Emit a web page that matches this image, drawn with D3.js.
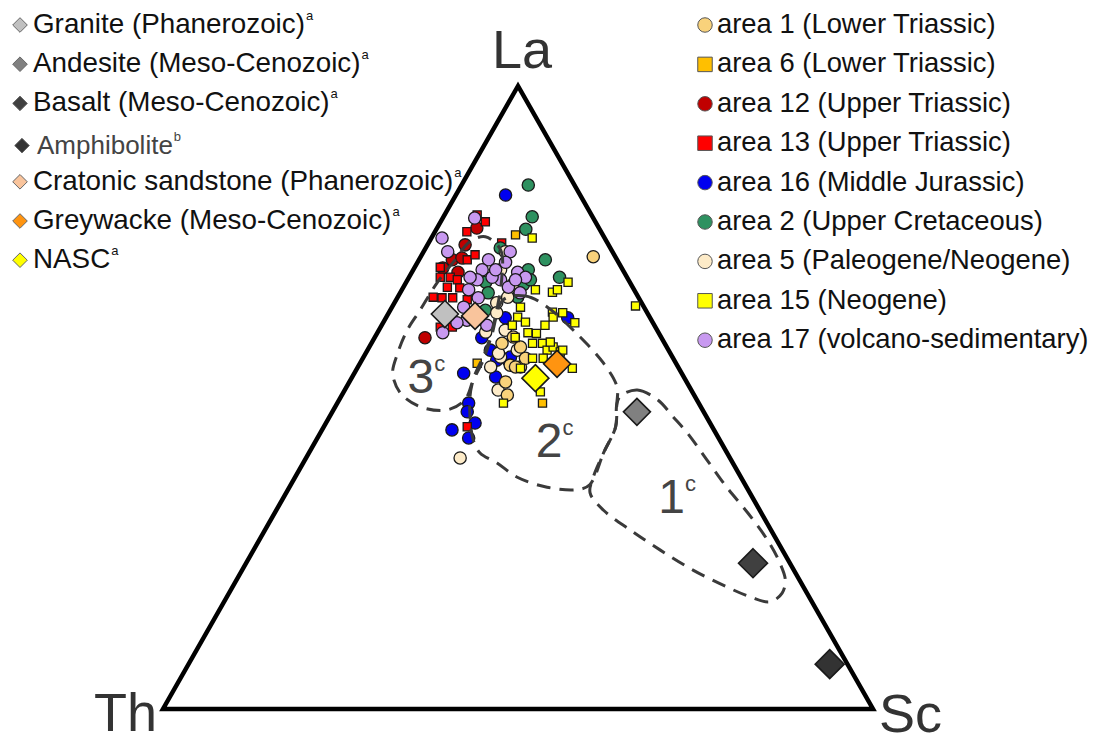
<!DOCTYPE html>
<html>
<head>
<meta charset="utf-8">
<script src="https://cdn.jsdelivr.net/npm/d3@7"></script>
<style>
  body { margin: 0; background: #fff; }
  svg { display: block; font-family: "Liberation Sans", Arial, sans-serif; }
</style>
</head>
<body>
<div id="chart"></div>
<script>
const width = 1094;
const height = 736;

// compositions as [La, Th, Sc] (%)
const area1 = [
  [72.6, 3.1, 24.3], [58.7, 22.9, 18.4], [52.5, 25.5, 22.0], [55.2, 23.5, 21.3],
  [54.9, 22.2, 22.9], [56.3, 20.8, 22.9], [59.7, 20.8, 19.5], [58.1, 20.6, 21.3],
  [54.9, 22.9, 22.2], [50.4, 26.3, 23.3],
];
const area6 = [[76.1, 12.3, 11.6], [55.5, 28.0, 16.5], [49.1, 22.0, 28.9]];
const area12 = [
  [74.5, 20.2, 5.3], [72.1, 23.2, 4.7], [70.8, 25.2, 4.0], [59.6, 33.3, 7.1],
  [77.2, 17.2, 5.6], [72.4, 21.7, 5.9], [70.1, 23.4, 6.5],
];
const area13 = [
  [78.2, 15.5, 6.3], [76.6, 18.9, 4.5], [79.3, 16.1, 4.6], [70.9, 25.5, 3.6],
  [72.1, 21.1, 6.8], [72.9, 19.6, 7.5], [69.3, 26.3, 4.4], [67.7, 26.1, 6.2],
  [69.3, 24.9, 5.8], [68.9, 24.1, 7.0], [67.6, 24.4, 8.0], [66.1, 28.9, 5.0],
  [66.0, 27.7, 6.3], [66.0, 26.2, 7.8], [65.7, 24.3, 10.0], [61.3, 30.3, 8.4],
  [61.3, 28.6, 10.1], [45.3, 34.5, 20.2], [74.8, 14.9, 10.3],
];
const area16 = [
  [82.5, 10.5, 7.0], [62.8, 11.6, 25.6], [59.6, 25.3, 15.1], [57.6, 25.1, 17.3],
  [56.0, 23.4, 20.6], [62.8, 20.4, 16.8], [53.9, 30.7, 15.4], [53.3, 26.5, 20.2],
  [49.1, 32.4, 18.5], [47.7, 33.3, 19.0], [45.9, 33.1, 21.0], [44.8, 36.9, 18.3],
  [43.5, 35.2, 21.3], [56.0, 25.0, 19.0], [56.5, 22.8, 20.7],
];
const area2 = [
  [84.1, 6.5, 9.4], [79.0, 8.5, 12.5], [77.0, 10.4, 12.6], [72.1, 10.1, 17.8],
  [69.3, 9.5, 21.2], [70.5, 13.3, 16.2], [74.0, 15.5, 10.5], [68.5, 20.3, 11.2],
  [66.8, 20.8, 12.4], [64.0, 22.6, 13.4], [66.1, 17.0, 16.9], [68.1, 15.2, 16.7],
  [68.9, 13.8, 17.3],
];
const area5 = [
  [54.9, 26.4, 18.7], [56.5, 24.2, 19.3], [51.2, 27.2, 21.6], [40.3, 38.0, 21.7],
  [70.5, 17.2, 12.3], [73.4, 15.1, 11.5], [65.2, 20.4, 14.4], [66.1, 18.4, 15.5],
  [63.6, 21.2, 15.2], [60.8, 21.4, 17.8], [57.6, 21.3, 21.1], [60.5, 24.3, 15.2],
  [57.1, 24.2, 18.7], [68.1, 16.7, 15.2],
];
const area15 = [
  [75.6, 10.2, 14.2], [66.9, 11.7, 21.4], [67.3, 10.8, 21.9], [68.5, 8.7, 22.8],
  [67.3, 13.9, 18.8], [62.9, 18.6, 18.5], [62.1, 17.9, 20.0], [63.7, 13.3, 23.0],
  [62.9, 13.6, 23.5], [63.6, 11.9, 24.5], [62.0, 11.0, 27.0], [60.4, 18.4, 21.2],
  [60.4, 17.3, 22.5], [61.6, 15.4, 23.0], [58.7, 18.6, 22.7], [58.7, 17.2, 24.1],
  [57.6, 17.1, 25.3], [58.1, 16.0, 25.9], [57.3, 15.4, 27.3], [56.3, 18.3, 25.4],
  [54.7, 22.3, 23.0], [54.7, 15.0, 30.3], [50.9, 21.4, 27.7], [49.1, 27.5, 23.4],
  [64.7, 1.1, 34.2], [61.6, 20.0, 18.4], [59.7, 20.6, 19.8], [64.5, 17.4, 18.1],
  [56.3, 19.8, 23.9], [58.9, 16.0, 25.1], [57.6, 14.9, 27.5],
];
const area17 = [
  [78.8, 16.7, 4.5], [75.6, 22.9, 1.5], [73.4, 23.2, 3.4], [73.4, 14.4, 12.2],
  [72.1, 18.1, 9.8], [70.1, 15.0, 14.9], [69.3, 14.3, 16.4], [68.9, 18.0, 13.1],
  [70.5, 19.8, 9.7], [68.9, 21.3, 9.8], [69.3, 22.1, 8.6], [69.3, 19.0, 11.7],
  [67.7, 17.5, 14.8], [68.9, 15.9, 15.2], [64.5, 25.4, 10.1], [62.4, 26.0, 11.6],
  [62.0, 27.6, 10.4], [60.4, 30.4, 9.2], [61.6, 23.6, 14.8], [66.8, 16.3, 16.9],
  [66.0, 22.6, 11.4], [70.5, 17.9, 11.6], [67.3, 23.3, 9.4], [71.7, 15.9, 12.4],
];

// reference compositions
const refNames = ['Granite (Phanerozoic)', 'Andesite (Meso-Cenozoic)', 'Basalt (Meso-Cenozoic)',
  'Amphibolite', 'Cratonic sandstone (Phanerozoic)', 'Greywacke (Meso-Cenozoic)', 'NASC'];
const refNotes = ['a', 'a', 'a', 'b', 'a', 'a', 'a'];
const refValues = [
  [63.4, 28.6, 8.0], [47.7, 9.4, 42.9], [23.4, 5.2, 71.4], [7.2, 2.5, 90.3],
  [63.1, 24.5, 12.4], [55.4, 16.8, 27.8], [53.1, 21.0, 25.9],
];

// provenance fields (outline compositions)
const field1 = [
  [50.2, 10.5, 39.3], [51.2, 7.6, 41.2], [49.6, 5.5, 44.9], [46.9, 4.7, 48.4],
  [44.3, 4.0, 51.7], [40.0, 3.4, 56.6], [35.6, 2.8, 61.6], [31.5, 1.9, 66.6],
  [27.1, 1.3, 71.6], [23.4, 1.4, 75.2], [20.7, 2.0, 77.3], [18.6, 3.5, 77.9],
  [17.2, 5.9, 76.9], [18.0, 8.3, 73.7], [19.6, 10.8, 69.6], [22.3, 14.2, 63.5],
  [25.5, 17.2, 57.3], [28.7, 19.8, 51.5], [31.9, 22.0, 46.1], [34.7, 22.5, 42.8],
  [37.2, 20.8, 42.0], [41.1, 17.4, 41.5], [45.3, 13.6, 41.1], [48.8, 11.7, 39.5],
];
const field2 = [
  [65.7, 19.2, 15.1], [66.3, 15.8, 17.9], [64.5, 13.6, 21.9], [59.7, 11.4, 28.9],
  [55.5, 10.2, 34.3], [51.7, 10.2, 38.1], [48.8, 11.7, 39.5], [45.3, 13.6, 41.1],
  [41.1, 17.4, 41.5], [36.0, 21.9, 42.1], [35.2, 24.1, 40.7], [35.6, 28.1, 36.3],
  [37.2, 31.5, 31.3], [39.5, 33.2, 27.3], [41.1, 34.8, 24.1], [43.2, 34.7, 22.1],
  [48.0, 32.8, 19.2], [52.0, 30.5, 17.5], [56.0, 26.9, 17.1], [60.0, 23.7, 16.3],
];
const field3 = [
  [75.8, 16.7, 7.5], [73.7, 15.6, 10.7], [69.7, 17.4, 12.9], [64.0, 21.0, 15.0],
  [58.1, 25.3, 16.6], [53.6, 29.3, 17.1], [49.6, 32.7, 17.7], [48.0, 36.0, 16.0],
  [48.5, 39.5, 12.0], [50.7, 41.2, 8.1], [53.9, 40.7, 5.4], [57.1, 38.4, 4.5],
  [60.8, 35.2, 4.0], [64.0, 31.8, 4.2], [68.4, 27.2, 4.4], [72.1, 22.8, 5.1],
  [75.0, 19.3, 5.7],
];
const fieldLabels = ['3', '2', '1'];
const fieldLabelAt = [[50.7, 40.2, 9.1], [40.4, 27.3, 32.3], [31.5, 14.5, 54.0]];

const series = [
  { name: 'area 1 (Lower Triassic)', data: area1, shape: 'circle', fill: '#f9d27b' },
  { name: 'area 6 (Lower Triassic)', data: area6, shape: 'square', fill: '#ffbf00' },
  { name: 'area 12 (Upper Triassic)', data: area12, shape: 'circle', fill: '#c00000' },
  { name: 'area 13 (Upper Triassic)', data: area13, shape: 'square', fill: '#ff0000' },
  { name: 'area 16 (Middle Jurassic)', data: area16, shape: 'circle', fill: '#0000f0' },
  { name: 'area 2 (Upper Cretaceous)', data: area2, shape: 'circle', fill: '#2e9160' },
  { name: 'area 5 (Paleogene/Neogene)', data: area5, shape: 'circle', fill: '#fdebc8' },
  { name: 'area 15 (Neogene)', data: area15, shape: 'square', fill: '#ffff00' },
  { name: 'area 17 (volcano-sedimentary)', data: area17, shape: 'circle', fill: '#c899f0' },
];
const drawOrder = [4, 2, 3, 5, 6, 0, 8, 7, 1];
const refColors = ['#c0c0c0', '#808080', '#404040', '#333333', '#f9c49c', '#ff9410', '#ffff00'];

const xScale = d3.scaleLinear().domain([0, 1]).range([163, 873]);
const yScale = d3.scaleLinear().domain([0, 1]).range([709, 86]);

const project = ([la, th, sc]) => {
  const s = la + th + sc;
  return [xScale((sc + la / 2) / s), yScale(la / s)];
};

const diamond = (h) => `M0,${-h}L${h},0L0,${h}L${-h},0Z`;
const symbolPath = (shape, size) => d3.symbol()
  .type(shape === 'square' ? d3.symbolSquare : d3.symbolCircle)
  .size(size)();

const svg = d3.select('#chart').append('svg')
  .attr('width', width)
  .attr('height', height);

// triangle frame
const corners = [[100, 0, 0], [0, 100, 0], [0, 0, 100]];
svg.append('path')
  .attr('d', d3.line()(corners.map(project)) + 'Z')
  .attr('fill', 'none')
  .attr('stroke', '#000')
  .attr('stroke-width', 4.5)
  .attr('stroke-linejoin', 'miter');

// apex labels
const apexLabels = svg.append('g')
  .attr('fill', '#333')
  .attr('font-size', 54);
apexLabels.append('text')
  .attr('x', project(corners[0])[0] + 4)
  .attr('y', project(corners[0])[1] - 18)
  .attr('text-anchor', 'middle')
  .text('La');
apexLabels.append('text')
  .attr('x', project(corners[1])[0] - 6)
  .attr('y', project(corners[1])[1] + 22)
  .attr('text-anchor', 'end')
  .text('Th');
apexLabels.append('text')
  .attr('x', project(corners[2])[0] + 6)
  .attr('y', project(corners[2])[1] + 23)
  .attr('text-anchor', 'start')
  .text('Sc');

// sample points
const points = svg.append('g').attr('class', 'points');
drawOrder.forEach((i) => {
  const s = series[i];
  points.append('g')
    .selectAll('path')
    .data(s.data)
    .join('path')
    .attr('transform', (d) => `translate(${project(d)})`)
    .attr('d', symbolPath(s.shape, s.shape === 'square' ? 66 : 118))
    .attr('fill', s.fill)
    .attr('stroke', '#1a1a1a')
    .attr('stroke-width', 1.3);
});

// field outlines
const fieldLine = d3.line().curve(d3.curveCatmullRomClosed.alpha(0.5));
svg.append('g')
  .selectAll('path')
  .data([field1, field2, field3])
  .join('path')
  .attr('d', (d) => fieldLine(d.map(project)))
  .attr('fill', 'none')
  .attr('stroke', '#3a3a3a')
  .attr('stroke-width', 3)
  .attr('stroke-dasharray', '14 9');

const labels = svg.append('g')
  .attr('fill', '#444')
  .selectAll('text')
  .data(fieldLabels)
  .join('text')
  .attr('x', (d, i) => project(fieldLabelAt[i])[0])
  .attr('y', (d, i) => project(fieldLabelAt[i])[1])
  .attr('font-size', 48);
labels.append('tspan').text((d) => d);
labels.append('tspan').attr('font-size', 22).attr('dy', -22).text('c');

// reference compositions
svg.append('g')
  .selectAll('path')
  .data(refValues)
  .join('path')
  .attr('transform', (d) => `translate(${project(d)})`)
  .attr('d', (d, i) => diamond(i === 2 || i === 3 ? 14.5 : 13.5))
  .attr('fill', (d, i) => refColors[i])
  .attr('stroke', '#1a1a1a')
  .attr('stroke-width', 1.6)
  .attr('stroke-linejoin', 'miter');

// left legend
const legendL = svg.append('g').attr('class', 'legend-left');
const rowL = legendL.selectAll('g')
  .data(refNames)
  .join('g')
  .attr('transform', (d, i) => `translate(0, ${33 + i * 39.2 + (i === 3 ? 3 : 0)})`);
rowL.append('path')
  .attr('transform', (d, i) => `translate(${i === 3 ? 22 : 20}, -8)`)
  .attr('d', diamond(7.3))
  .attr('fill', (d, i) => refColors[i])
  .attr('stroke', '#666')
  .attr('stroke-width', 1);
const textL = rowL.append('text')
  .attr('x', (d, i) => (i === 3 ? 37 : 33))
  .attr('font-size', (d, i) => (i === 3 ? 26 : 27.8))
  .attr('fill', (d, i) => (i === 3 ? '#444' : '#111'));
textL.append('tspan').text((d) => d);
textL.append('tspan')
  .attr('font-size', 13)
  .attr('dy', -13)
  .attr('dx', 1)
  .text((d, i) => refNotes[i]);

// right legend
const legendR = svg.append('g').attr('class', 'legend-right');
const rowR = legendR.selectAll('g')
  .data(series)
  .join('g')
  .attr('transform', (d, i) => `translate(0, ${33 + i * 39.4})`);
rowR.append('path')
  .attr('transform', 'translate(705, -8)')
  .attr('d', (d) => symbolPath(d.shape, d.shape === 'square' ? 210 : 165))
  .attr('fill', (d) => d.fill)
  .attr('stroke', '#555')
  .attr('stroke-width', 1);
rowR.append('text')
  .attr('x', 717)
  .attr('font-size', 27.4)
  .attr('fill', '#111')
  .text((d) => d.name);
</script>
</body>
</html>
